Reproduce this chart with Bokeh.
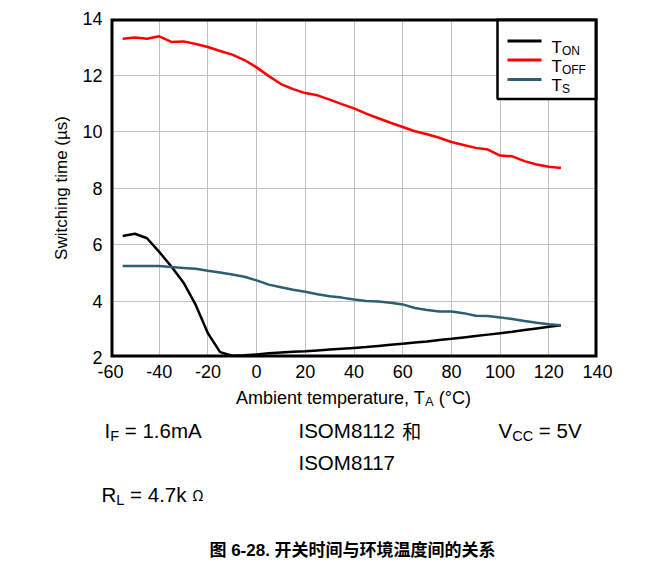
from bokeh.plotting import figure
from bokeh.models import Label, Range1d, FixedTicker
from bokeh.layouts import column
from bokeh.embed import file_html
from bokeh.resources import INLINE

# ---------------- data ----------------
temps = [-55, -50, -45, -40, -35, -30, -25, -20, -15, -10, -5, 0, 5, 10, 15, 20,
         25, 30, 35, 40, 45, 50, 55, 60, 65, 70, 75, 80, 85, 90, 95, 100, 105,
         110, 115, 120, 125]
t_on = [6.30, 6.38, 6.22, 5.74, 5.22, 4.65, 3.86, 2.86, 2.19, 2.06, 2.08, 2.11,
        2.15, 2.18, 2.20, 2.22, 2.25, 2.28, 2.31, 2.34, 2.37, 2.41, 2.45, 2.49,
        2.53, 2.57, 2.62, 2.66, 2.71, 2.76, 2.81, 2.86, 2.91, 2.97, 3.03, 3.09, 3.14]
t_off = [13.28, 13.33, 13.28, 13.37, 13.17, 13.19, 13.10, 12.99, 12.85, 12.72,
         12.53, 12.27, 11.96, 11.68, 11.50, 11.36, 11.28, 11.13, 10.97, 10.82,
         10.63, 10.47, 10.31, 10.16, 10.01, 9.90, 9.78, 9.63, 9.52, 9.42, 9.36,
         9.15, 9.12, 8.95, 8.83, 8.75, 8.71]
t_s = [5.24, 5.24, 5.24, 5.24, 5.20, 5.17, 5.14, 5.07, 5.01, 4.94, 4.86, 4.73,
       4.58, 4.49, 4.40, 4.33, 4.24, 4.17, 4.12, 4.05, 4.00, 3.98, 3.94, 3.88,
       3.75, 3.68, 3.63, 3.63, 3.57, 3.48, 3.47, 3.42, 3.36, 3.29, 3.23, 3.18, 3.14]
x_ticks = [-60, -40, -20, 0, 20, 40, 60, 80, 100, 120, 140]
y_ticks = [2, 4, 6, 8, 10, 12, 14]

C_ON, C_OFF, C_S = "#000000", "#ff0000", "#2e5e72"
FONT = "Liberation Sans, Noto Sans CJK SC"
CJK = "Noto Sans CJK SC"
NB = "\u00a0"

# ---------------- layout geometry (page px) ----------------
F_L, F_R, F_T, F_B = 110, 597, 18, 357
W_FIG, H1, H_ALL = 656, 385, 567
XMIN, XMAX, YMIN, YMAX = -60, 140, 2, 14


def X(px):
    return XMIN + (px - F_L) * (XMAX - XMIN) / (F_R - F_L)


def Y(py):
    return YMAX - (py - F_T) * (YMAX - YMIN) / (F_B - F_T)


p = figure(width=W_FIG, height=H1,
           x_range=Range1d(XMIN, XMAX), y_range=Range1d(YMIN, YMAX),
           output_backend="svg", toolbar_location=None,
           min_border_left=F_L, min_border_right=W_FIG - F_R,
           min_border_top=F_T, min_border_bottom=H1 - F_B)
p.frame_align = False
p.background_fill_color = "white"
p.border_fill_color = "white"
p.outline_line_color = None

for ax, ticks in ((p.xaxis, x_ticks), (p.yaxis, y_ticks)):
    ax.ticker = FixedTicker(ticks=ticks)
    ax.major_label_overrides = {t: str(t) for t in ticks}
    ax.axis_line_color = None
    ax.major_tick_line_color = None
    ax.minor_tick_line_color = None
    ax.major_label_text_font = "Liberation Sans"
    ax.major_label_text_font_size = "18px"
    ax.major_label_text_color = "black"
p.xaxis.major_label_standoff = 1
p.yaxis.major_label_standoff = 2
p.yaxis.axis_label = "Switching time (µs)"
p.yaxis.axis_label_text_font = "Liberation Sans"
p.yaxis.axis_label_text_font_size = "17px"
p.yaxis.axis_label_text_font_style = "normal"
p.yaxis.axis_label_text_color = "black"
p.yaxis.axis_label_standoff = 8

p.xgrid.ticker = FixedTicker(ticks=x_ticks)
p.ygrid.ticker = FixedTicker(ticks=y_ticks)
for g in (p.xgrid, p.ygrid):
    g.grid_line_color = "#c0c0c0"
    g.grid_line_width = 1

p.line(temps, t_on, line_color=C_ON, line_width=2.5)
p.line(temps, t_off, line_color=C_OFF, line_width=2.5)
p.line(temps, t_s, line_color=C_S, line_width=2.5)

# ---------------- legend ----------------
p.quad(left=X(497), right=X(597), top=Y(F_T), bottom=Y(98.5),
       fill_color="white", line_color="black", line_width=2.5)

# frame border (stroke is clipped to the inside of the frame)
p.quad(left=XMIN, right=XMAX, top=YMAX, bottom=YMIN,
       fill_alpha=0, line_color="black", line_width=6)

# ---------------- text helpers ----------------
WID = {' ': 278, NB: 278, '(': 333, ')': 333, ',': 278, '-': 333, '.': 278,
       '=': 584, '°': 400, 'A': 667, 'C': 722, 'F': 611, 'I': 278, 'L': 556,
       'M': 833, 'N': 722, 'O': 778, 'R': 722, 'S': 667, 'T': 611, 'V': 667,
       'a': 556, 'b': 556, 'e': 556, 'i': 222, 'k': 500, 'm': 833, 'n': 556,
       'p': 556, 'r': 333, 't': 278, 'u': 556, 'Ω': 768, '和': 1000}


def tw(s, size):
    return sum(WID.get(c, 556 if c.isdigit() else 1000) for c in s) / 1000 * size


def run(fig, fx, fy, x_px, y_px, parts, center=False, bold=False,
        baseline="alphabetic"):
    if center:
        x_px -= sum(tw(t, s) for t, s, *_ in parts) / 2
    x = x_px
    for part in parts:
        text, size, dy = part[0], part[1], part[2]
        font = part[3] if len(part) > 3 else FONT
        fig.add_layout(Label(x=fx(x), y=fy(y_px + dy), text=text,
                             text_font=font, text_font_size=f"{size}px",
                             text_font_style="bold" if bold else "normal",
                             text_color="black", text_align="left",
                             text_baseline=baseline))
        x += tw(text, size)


legend_rows = [("ON", C_ON, 40.5), ("OFF", C_OFF, 59.5), ("S", C_S, 79)]
for sub, col, yc in legend_rows:
    p.line([X(507), X(541)], [Y(yc), Y(yc)], line_color=col, line_width=3)
    run(p, X, Y, 551, yc + 6, [("T", 17, 0), (sub, 12, 3.5)])

# ---------------- lower panel: axis title and notes ----------------
p2 = figure(width=W_FIG, height=H_ALL - H1,
            x_range=Range1d(0, W_FIG), y_range=Range1d(H_ALL, H1),
            output_backend="svg", toolbar_location=None,
            x_axis_location=None, y_axis_location=None,
            min_border=0, min_border_left=0, min_border_right=0,
            min_border_top=0, min_border_bottom=0)
p2.frame_align = False
p2.grid.visible = False
p2.outline_line_color = None
p2.background_fill_color = "white"
p2.border_fill_color = "white"


def ident(v):
    return v


M = "middle"
run(p2, ident, ident, 353, 397,
    [("Ambient temperature, T", 18, 0), ("A", 13, 4), (NB + "(°C)", 18, 0)],
    center=True, baseline=M)
run(p2, ident, ident, 104, 430,
    [("I", 20.5, 0), ("F", 14.5, 5.5), (NB + "=" + NB + "1.6mA", 20.5, 0)], baseline=M)
run(p2, ident, ident, 298, 430, [("ISOM8112" + NB, 20.5, 0), ("和", 19, 0, CJK)],
    baseline=M)
run(p2, ident, ident, 498, 430,
    [("V", 20.5, 0), ("CC", 14.5, 5.5), (NB + "=" + NB + "5V", 20.5, 0)], baseline=M)
run(p2, ident, ident, 298, 462, [("ISOM8117", 20.5, 0)], baseline=M)
run(p2, ident, ident, 101, 494,
    [("R", 20.5, 0), ("L", 14.5, 5.5), (NB + "=" + NB + "4.7k" + NB, 20.5, 0),
     ("Ω", 15, 0, CJK)], baseline=M)
run(p2, ident, ident, 352, 550, [("图 6-28. 开关时间与环境温度间的关系", 17, 0)],
    center=True, bold=True, baseline=M)

layout = column(p, p2, spacing=0)
open("out.html", "w").write(file_html(layout, INLINE))
